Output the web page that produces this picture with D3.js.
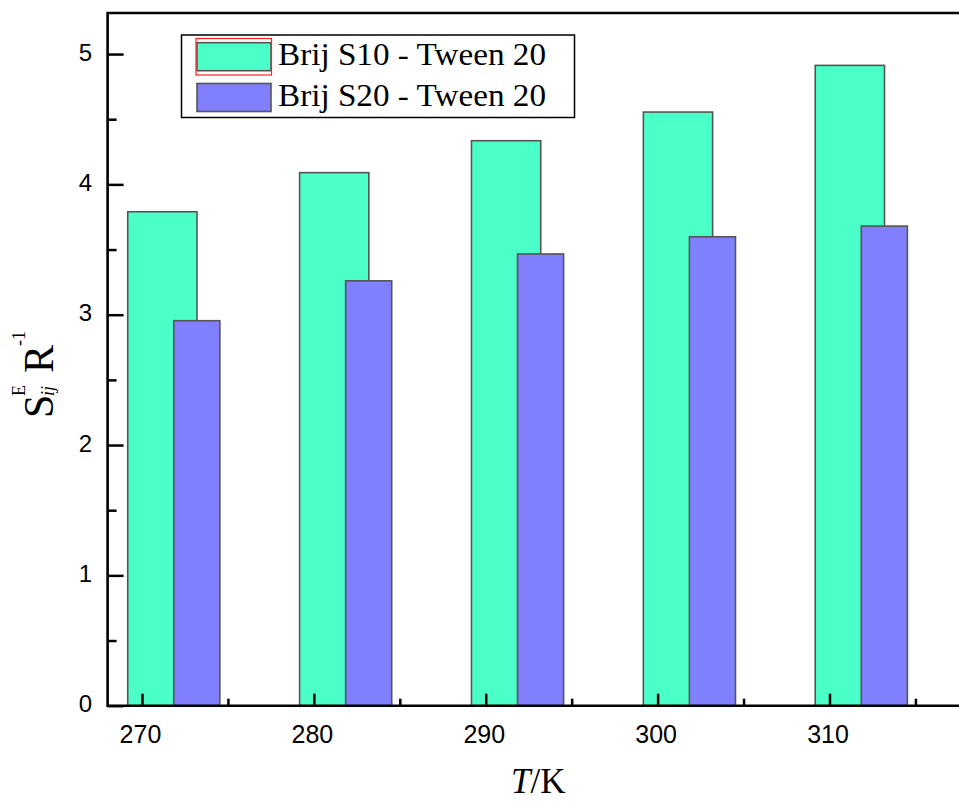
<!DOCTYPE html>
<html>
<head>
<meta charset="utf-8">
<script src="https://cdn.jsdelivr.net/npm/d3@7/dist/d3.min.js"></script>
<style>
  html, body { margin: 0; padding: 0; background: #fff; }
  svg { display: block; }
</style>
</head>
<body>
<script>
// ---- data ----
const temperatures = [270, 280, 290, 300, 310];
const brijS10 = [3.79, 4.09, 4.335, 4.555, 4.913];
const brijS20 = [2.954, 3.26, 3.466, 3.598, 3.68];
const seriesNames = ["Brij S10 - Tween 20", "Brij S20 - Tween 20"];
const xTickValues = [270, 280, 290, 300, 310];
const yTickValues = [0, 1, 2, 3, 4, 5];

(function () {
const W = 959, H = 801;
const colors = ["#4BFFC8", "#8080FF"];

const svg = d3.select("body").append("svg").attr("width", W).attr("height", H);

const x = d3.scaleLinear().domain([268, 318]).range([107.6, 967]);
const y = d3.scaleLinear().domain([0, 5.315]).range([705.7, 13]);

const plotLeft = x(268), plotBottom = y(0), plotTop = y(5.315);

// bars (green behind, blue in front)
const g1 = svg.append("g");
g1.selectAll("rect").data(temperatures.map((t, i) => ({t, v: brijS10[i]})))
  .join("rect")
  .attr("x", d => x(d.t - 0.83))
  .attr("width", d => x(d.t + 3.2) - x(d.t - 0.83))
  .attr("y", d => y(d.v))
  .attr("height", d => y(0) - y(d.v))
  .attr("fill", colors[0]).attr("stroke", "#555").attr("stroke-width", 1.6);

const g2 = svg.append("g");
g2.selectAll("rect").data(temperatures.map((t, i) => ({t, v: brijS20[i]})))
  .join("rect")
  .attr("x", d => x(d.t + 1.85))
  .attr("width", d => x(d.t + 4.53) - x(d.t + 1.85))
  .attr("y", d => y(d.v))
  .attr("height", d => y(0) - y(d.v))
  .attr("fill", colors[1]).attr("stroke", "#555").attr("stroke-width", 1.6);

// axes
const xAxisMajor = d3.axisBottom(x).tickValues(xTickValues).tickSize(-12).tickFormat("");
const xAxisMinor = d3.axisBottom(x).tickValues(xTickValues.map(v => v + 5)).tickSize(-7).tickFormat("");
const yAxisMajor = d3.axisLeft(y).tickValues(yTickValues).tickSize(-16).tickFormat("");
const yAxisMinor = d3.axisLeft(y).tickValues(yTickValues.map(v => v + 0.5)).tickSize(-9).tickFormat("");

function styleAxis(g) {
  g.select(".domain").remove();
  g.selectAll(".tick line").attr("stroke", "#000").attr("stroke-width", 2.5);
}
svg.append("g").attr("transform", `translate(0,${plotBottom})`).call(xAxisMajor).call(styleAxis);
svg.append("g").attr("transform", `translate(0,${plotBottom})`).call(xAxisMinor).call(styleAxis);
svg.append("g").attr("transform", `translate(${plotLeft},0)`).call(yAxisMajor).call(styleAxis);
svg.append("g").attr("transform", `translate(${plotLeft},0)`).call(yAxisMinor).call(styleAxis);

// frame lines
svg.append("path")
  .attr("d", `M${W + 5},${plotTop} H${plotLeft} V${plotBottom} H${W + 5}`)
  .attr("fill", "none").attr("stroke", "#000").attr("stroke-width", 2.6);

// tick labels
svg.append("g").selectAll("text").data(xTickValues).join("text")
  .attr("x", d => x(d) - 1.5).attr("y", 743)
  .attr("text-anchor", "middle")
  .attr("font-family", "Liberation Sans, Arial, sans-serif").attr("font-size", 25)
  .text(d => d);
svg.append("g").selectAll("text").data(yTickValues).join("text")
  .attr("x", 92).attr("y", d => y(d) + 6.5)
  .attr("text-anchor", "end")
  .attr("font-family", "Liberation Sans, Arial, sans-serif").attr("font-size", 24)
  .text(d => d);

// x axis title
const xt = svg.append("text").attr("x", 511).attr("y", 793)
  .attr("font-family", "Liberation Serif, Times New Roman, serif").attr("font-size", 35);
xt.append("tspan").attr("font-style", "italic").text("T");
xt.append("tspan").text("/K");

// y axis title
const yt = svg.append("g").attr("transform", "translate(53,418) rotate(-90)")
  .attr("font-family", "Liberation Serif, Times New Roman, serif");
yt.append("text").attr("x", 0).attr("y", 0).attr("font-size", 42).text("S");
yt.append("text").attr("x", 22).attr("y", -28).attr("font-size", 18).text("E");
yt.append("text").attr("x", 22).attr("y", 1).attr("font-size", 18).attr("font-style", "italic").text("ij");
yt.append("text").attr("x", 45).attr("y", 0).attr("font-size", 42).text("R");
yt.append("text").attr("x", 72).attr("y", -28).attr("font-size", 18).text("-1");

// legend
const lg = svg.append("g");
lg.append("rect").attr("x", 181.5).attr("y", 35).attr("width", 393).attr("height", 82.5)
  .attr("fill", "#fff").attr("stroke", "#000").attr("stroke-width", 1.5);
const swY = [42.7, 83.5];
seriesNames.forEach((name, i) => {
  lg.append("rect").attr("x", 197).attr("y", swY[i]).attr("width", 74).attr("height", 28)
    .attr("fill", colors[i]).attr("stroke", "#555").attr("stroke-width", 1.6);
  lg.append("text").attr("x", 278).attr("y", swY[i] + 22.5)
    .attr("font-family", "Liberation Serif, Times New Roman, serif").attr("font-size", 31)
    .attr("textLength", 268).attr("lengthAdjust", "spacingAndGlyphs")
    .text(name);
});
lg.append("rect").attr("x", 196).attr("y", 38.5).attr("width", 75.5).attr("height", 36.5)
  .attr("fill", "none").attr("stroke", "#ff2020").attr("stroke-width", 1.2);
})();
</script>
</body>
</html>
